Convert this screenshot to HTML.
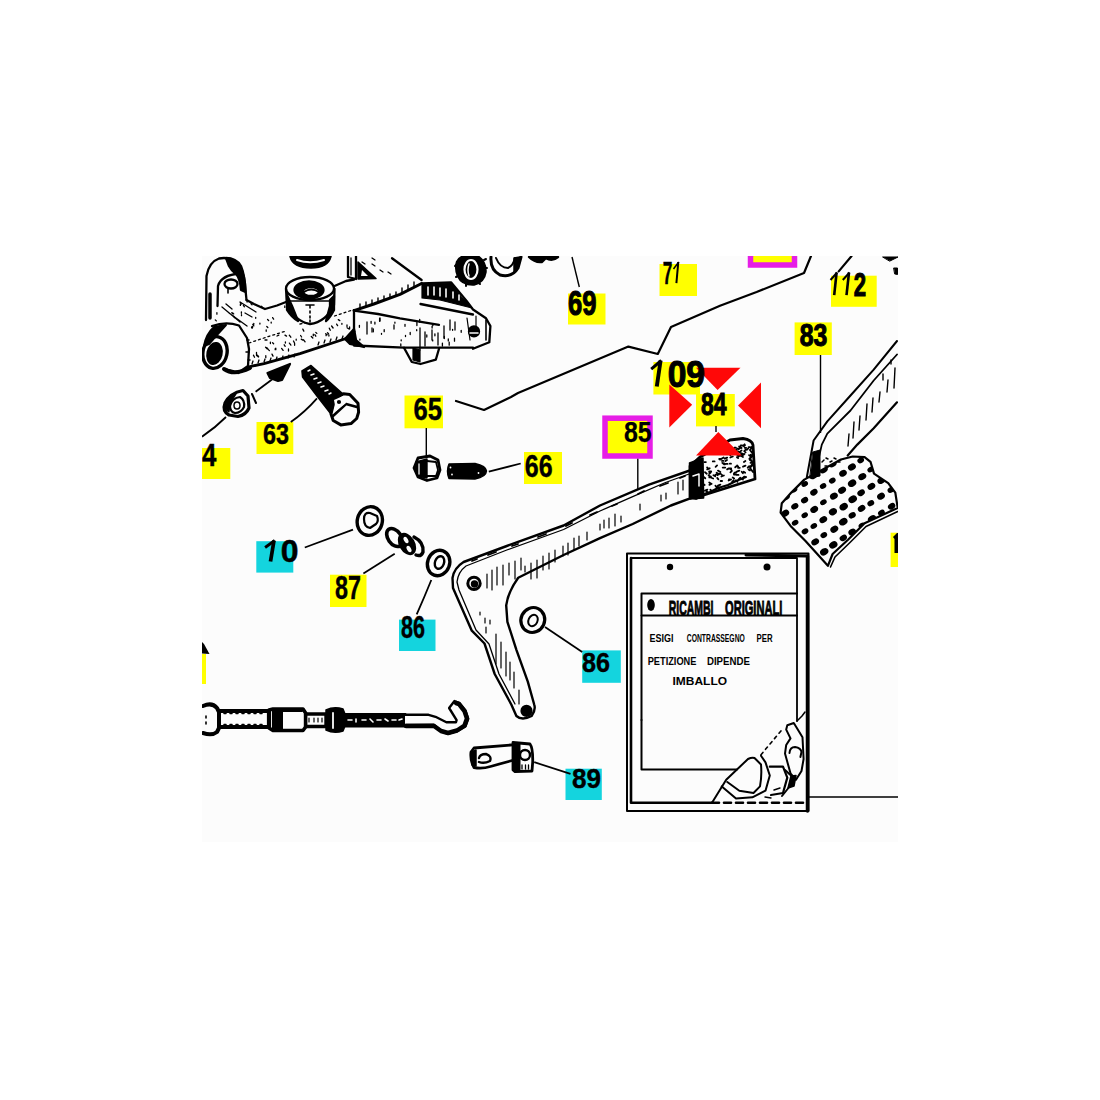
<!DOCTYPE html>
<html><head><meta charset="utf-8"><style>
html,body{margin:0;padding:0;background:#fff;width:1100px;height:1100px;overflow:hidden}
svg{display:block}
</style></head><body>
<svg width="1100" height="1100" viewBox="0 0 1100 1100">
<rect x="202" y="256" width="696" height="586" fill="#fcfcfc"/>
<defs><clipPath id="imgclip"><rect x="202" y="256" width="696" height="586"/></clipPath></defs><g clip-path="url(#imgclip)">
<g><rect x="568.0" y="293.5" width="37.5" height="31.0" fill="#ffff00"/><rect x="659.5" y="264.0" width="37.5" height="32.0" fill="#ffff00"/><rect x="831.0" y="275.7" width="45.7" height="31.1" fill="#ffff00"/><rect x="794.6" y="322.4" width="37.2" height="32.6" fill="#ffff00"/><rect x="653.4" y="362.0" width="46.6" height="32.5" fill="#ffff00"/><rect x="696.0" y="394.0" width="38.8" height="32.4" fill="#ffff00"/><rect x="404.5" y="395.5" width="38.5" height="32.8" fill="#ffff00"/><rect x="524.0" y="452.0" width="38.0" height="32.0" fill="#ffff00"/><rect x="256.5" y="422.0" width="36.8" height="32.0" fill="#ffff00"/><rect x="202.0" y="448.0" width="28.3" height="31.0" fill="#ffff00"/><rect x="256.3" y="541.2" width="37.0" height="31.4" fill="#14d4de"/><rect x="330.0" y="574.7" width="36.5" height="32.3" fill="#ffff00"/><rect x="399.0" y="619.6" width="36.5" height="31.4" fill="#14d4de"/><rect x="582.2" y="650.4" width="38.6" height="32.4" fill="#14d4de"/><rect x="565.5" y="768.7" width="36.3" height="31.3" fill="#14d4de"/><rect x="750.5" y="250" width="44" height="15" fill="#ffff00" stroke="#e61ee6" stroke-width="5.5"/><rect x="605" y="418.2" width="45" height="37.8" fill="#ffff00" stroke="#e61ee6" stroke-width="5.5"/><rect x="890.6" y="532.7" width="7.4" height="34.3" fill="#ffff00"/></g>
<g fill="none" stroke="#000" stroke-width="2.2" stroke-linejoin="round" stroke-linecap="round"><polyline points="456,401 484,410 511,397 518,393 628.4,346.6 657.8,354 671,327 720,305.7 756.6,292 804,273 811,256"/><line x1="838.7" y1="271.4" x2="851.6" y2="256"/></g>
<g fill="none" stroke="#000" stroke-width="1.4"><line x1="579.3" y1="287" x2="572" y2="257"/><line x1="820.5" y1="355" x2="820.5" y2="433"/><line x1="716" y1="426" x2="716" y2="432"/><line x1="426.3" y1="428" x2="426.3" y2="456"/><line x1="637.8" y1="458.7" x2="637.8" y2="489.6"/></g>
<g fill="none" stroke="#000" stroke-width="1.8"><path d="M488.8,471.6 L520.7,463.5"/><path d="M290.8,422 Q305,412 317,398.3"/><path d="M202,436.7 Q215,428 226,417"/><path d="M255.6,391.7 L272,379.5"/><path d="M304.8,547.5 L353,529.7"/><path d="M363.4,573.6 L394.7,553.8"/><path d="M431.3,580 Q424,598 416.7,614.4"/><path d="M545,627 L582.2,652"/><path d="M534.2,762.2 L570.5,773.8"/></g>
<g fill="none" stroke="#000" stroke-width="2.3" stroke-linejoin="round" stroke-linecap="round">
 <!-- lug -->
 <path d="M206,320 L206.5,276 Q209,262 219,258.5 Q232,256 240,266 Q245,276 245.5,290 L246.5,300"/>
 <path d="M210,318 L210,294" stroke-width="3.5"/>
 <path d="M217.5,306 L218,286 Q221,275 240,273.5"/>
 <ellipse cx="231" cy="284" rx="6.5" ry="4.5"/>
 <path d="M228,289 L228,293" stroke-width="1.6"/>
 <path d="M226,258 Q236,258 241,266 Q245,276 245.5,292 L241,290 Q240,278 236,274 Q231,270 229,266 Z" fill="#000"/>
 <!-- arm top edge lug->nut -->
 <path d="M246.5,300 L254,304 L265,309 L277,305.5 L286,302"/>
 <!-- texture lines on lug/arm -->
 <path d="M222,307 L240,322 M226,304 L232,309 M229,313 L247,326 M240,302 L256,312 M245,313 L252,317" stroke-width="1.3"/>
 <!-- boss left -->
 <ellipse cx="215" cy="352.5" rx="12" ry="16" transform="rotate(12 215 352.5)" stroke-width="3.4"/>
 <ellipse cx="214.5" cy="353.5" rx="7" ry="10.5" transform="rotate(12 214.5 353.5)" fill="#000"/>
 <path d="M212,326 Q226,321 239,325.5 L247,338 L249,349 L248,366 L238,373 L225,369" />
 <path d="M204,346 Q206,334 214,327 L226,325 L216,336 L209,344 Z" fill="#000" stroke-width="2"/>
 <path d="M224,369 Q234,376 250,368" stroke-width="4"/>
 <path d="M247,340 l2,0 M246,352 l3,0 M248,360 l2,0" stroke-width="1.5"/>
 <!-- arm bottom edge -->
 <path d="M248,367 L264,363.6 L300,353.6 L347.6,338 L354,331.5" stroke-width="2.8"/>
 <path d="M252,364 l1,-3 M258,363 l1,-3 M264,362 l1,-3 M270,361 l1,-3 M276,360 l1,-3 M282,359 l1,-3 M288,358 l1,-3 M294,357 l1,-3 M318,345 l1,-3 M324,343 l1,-3 M330,342 l1,-3 M336,340 l1,-3 M342,339 l1,-3" stroke-width="1.3"/>
 <!-- black junction -->
 <path d="M345,339 L354,329 L356,340 L364,347 L350,344 Z" fill="#000"/>
 <!-- dotted lines -->
 <path d="M249,343 L270,336 L286,331 M300,324 L307,322.6 M334.5,316 L354,309.5 M265,340 l2,0 M277,336 l2,-1" stroke-width="1.3" stroke-dasharray="2 3"/>
 <!-- nut on arm -->
 <ellipse cx="310" cy="288.5" rx="24" ry="11.5"/>
 <path d="M286,289 L287,305 Q296,322 310,324 Q326,322 334,305 L334.5,289"/>
 <path d="M287,295 L287,310 Q292,318 298,321 L292,306 Z" fill="#000"/>
 <path d="M330,300 L334,296 L334,310 Q330,318 326,321 L330,306 Z" fill="#000"/>
 <ellipse cx="309" cy="290" rx="14.5" ry="8.5" fill="#000"/>
 <ellipse cx="311" cy="291.5" rx="8" ry="4.5" fill="#fcfcfc"/>
 <path d="M304,292 Q311,287 319,292" stroke-width="1.8"/>
 <path d="M290,301 L330,301" stroke-width="1.4"/>
 <path d="M306,305 L314,305 M310,306 l0,2 M310,311 l0,2 M310,316 l0,2 M310,320 l0,2" stroke-width="1.6"/>
 <!-- washer at top -->
 <path d="M290,256.5 Q293,268 311,268 Q328,268 331,256.5 Z" fill="#000" stroke-width="1.5"/>
 <path d="M297,260 Q310,264.5 324,260" stroke="#fcfcfc" stroke-width="2"/>
 <!-- arm top to plate -->
 <path d="M334.5,286 L346,281 L354,279.5"/>
 <path d="M348,256.5 L348,277 L356,279 L356,256.5" />
 <path d="M351,258 L351,275" stroke-width="1.3"/>
 <path d="M358,262 L376,278.5 L358,279 Z" fill="#000" stroke-width="1.5"/>
 <path d="M362,270 L368,276 L361,276 Z" fill="#fcfcfc" stroke="none"/>
 <path d="M392,258.3 L421.6,280" />
 <path d="M362,262 l3,2 M372,264 l3,2 M380,270 l3,2 M388,272 l3,2 M372,258 l3,2" stroke-width="1.3"/>
 <!-- block -->
 <path d="M354,310.6 L373.8,304 L400,294.3 L421.6,283.5" stroke-width="3"/>
 <path d="M360,308 l0,-4 M366,306 l0,-4 M372,304 l0,-4 M378,302 l0,-4 M384,300 l0,-4 M390,298 l0,-4 M396,296 l0,-4 M402,293 l0,-5 M408,290 l0,-5 M414,287 l0,-5" stroke-width="1.4"/>
 <path d="M354,310.6 L378,314 L400,318.3 L439,324.8"/>
 <path d="M420.5,304 L473,314.5"/>
 <path d="M354,310.6 L354,345.5 L404,347.7 L473,347.7"/>
 <path d="M421.6,283.4 L451,282.3 L466.4,300.8 L473,309.5 L486,318.3 L490.4,326 L489.3,342.3 L473,348.8"/>
 <path d="M422,284 L451,283 L462,298 L472,308 L440,300 L422,298 Z" fill="#000" stroke-width="1.2"/>
 <path d="M428,287 l0,8 M434,287 l0,8 M440,288 l0,8 M446,289 l0,8 M453,292 l0,6 M459,295 l0,5" stroke="#fcfcfc" stroke-width="1.6"/>
 <path d="M467,318 L470,340 M476,316 L476,332" stroke-width="1.2"/>
 <circle cx="474" cy="331.4" r="5" fill="#000"/>
 <path d="M470,333 L478,333" stroke="#fcfcfc" stroke-width="1.5"/>
 <path d="M486,320 L486,340" stroke-width="1.6"/>
 <!-- lug under block -->
 <path d="M404,347.7 L411.8,362 L420.5,364 L435.8,359.7 L439,348.8"/>
 <path d="M413,348 L413,360 L420,362 L420,350 Z" fill="#000" stroke-width="1.2"/>
 <!-- block texture -->
 <path d="M367,322 l0,12 M372,328 l0,4 M380,318 l0,3 M394,325 l0,4 M420,328 l0,22 M425,332 l0,14 M432,330 l0,10 M438,333 l0,12 M444,326 l0,12 M450,320 l0,10 M455,322 l0,8" stroke-width="1.3"/>
 <!-- nut top right -->
 <path d="M457,262 Q460,256 466,256.5 L478,256.5 Q486,262 485.5,272 Q484,282 474,284.5 Q462,285 458,276 Q455,269 457,262 Z" fill="#000" stroke-width="2.5"/>
 <ellipse cx="471" cy="269.5" rx="6.5" ry="9.5" fill="none" stroke="#fcfcfc" stroke-width="2.2"/>
 <path d="M469,264 Q467,270 469,276" stroke="#fcfcfc" stroke-width="1.5"/>
 <path d="M457,264 l-2,2 M458,276 l-2,1 M466,284 l0,2 M478,282 l2,2 M485,268 l2,0 M484,260 l2,-1" stroke-width="2"/>
 <!-- washer right of nut -->
 <path d="M491,257 Q490,270 500,275 Q512,278 518,268 L521,257" stroke-width="3"/>
 <path d="M496,258 Q500,268 508,268 Q513,266 515,258" stroke-width="2"/>
 <path d="M514,258 L520,257 Q520,268 514,273 Z" fill="#000" stroke-width="1.5"/>
 <path d="M529,257 Q535,263 542,262 L546,258 Q552,262 558,257 Z" fill="#000" stroke-width="2.4"/>
</g>

<g fill="none" stroke="#000" stroke-width="1.3" stroke-linecap="round"><path d="M266.8,347.8 l1,1 M314.8,334.7 l1,1.5 M272.0,354.1 l1,2 M347.1,327.8 l1.5,1 M265.8,355.7 l0,2 M296.2,339.2 l0,1 M285.0,335.1 l1.5,1 M338.3,319.6 l1.5,1 M300.6,335.5 l1,1.5 M272.6,342.8 l1,1 M285.4,342.0 l0,1 M256.7,355.4 l1.5,1.5 M329.3,328.2 l1,2 M257.1,354.9 l1.5,1.5 M328.9,335.0 l0,1 M326.1,334.7 l0,1 M293.5,341.0 l1,2 M336.6,324.1 l1,1.5 M288.5,349.0 l0,2 M256.5,352.4 l0,2 M267.9,349.1 l1.5,1.5 M275.8,348.2 l0,1.5 M341.9,323.3 l0,1 M301.3,339.1 l1.5,1 M311.3,336.5 l1.5,1.5 M281.6,348.4 l1.5,2 M303.6,339.8 l1.5,2 M256.5,355.5 l1.5,1 M349.6,327.0 l0,2 M257.5,355.5 l1,1.5 M327.5,332.8 l1,1 M315.8,332.4 l1,1 M302.8,329.1 l1,2 M275.2,348.7 l0,1 M289.3,335.2 l1.5,2 M289.4,343.1 l1.5,2 M325.7,333.7 l1.5,1 M284.2,344.8 l1,1.5 M347.0,325.0 l0,1.5 M265.6,347.2 l1.5,1.5 M270.4,342.1 l0,1.5 M294.6,343.3 l0,2 M253.5,355.2 l1,2 M313.3,334.2 l0,1.5 M331.6,326.0 l1.5,2"/><path d="M252.5,326.5 l0,1.5 M253.8,323.3 l0,1 M266.8,326.5 l1,1 M240.4,302.5 l1,1.5 M243.4,305.3 l1,1.5 M252.8,324.4 l1,1.5 M240.4,303.9 l0,1.5 M216.9,312.7 l0,1.5 M261.6,306.3 l1,1.5 M251.6,326.9 l0,1 M251.0,303.7 l1,1 M231.8,312.7 l1,1 M259.9,323.1 l0,1 M267.6,319.5 l1,1 M232.7,312.9 l1,1 M241.5,314.7 l0,1 M233.6,316.1 l1,1.5 M247.1,301.1 l0,1 M272.6,317.6 l1,1.5 M271.2,322.1 l0,1 M266.2,329.8 l0,1.5 M241.4,311.8 l0,1.5 M215.3,319.9 l1,1 M255.7,317.3 l0,1 M284.8,305.9 l0,1.5"/><path d="M410.2,332.5 l0,2 M416.7,329.7 l0,1 M360.3,343.7 l0,1 M373.3,328.8 l0,3 M405.5,335.5 l0,1 M434.9,333.8 l0,2 M405.0,324.3 l0,2 M449.2,342.2 l0,3 M448.3,338.9 l0,2 M454.5,338.2 l0,3 M394.9,322.2 l0,1 M359.4,325.3 l0,2 M432.1,326.1 l0,2 M461.2,330.3 l0,2 M379.6,318.3 l0,3 M374.9,322.1 l0,2 M416.9,322.5 l0,3 M426.8,335.0 l0,2 M371.1,321.3 l0,2 M432.9,323.6 l0,2 M359.9,339.1 l0,1 M381.5,333.3 l0,1 M384.2,329.7 l0,2 M442.4,343.1 l0,3 M432.7,339.9 l0,1 M400.8,343.9 l0,2 M444.3,336.5 l0,2 M452.6,329.3 l0,1 M419.7,319.3 l0,3 M401.2,339.8 l0,1"/></g>

<g fill="none" stroke="#000" stroke-width="2.2" stroke-linejoin="round" stroke-linecap="round">
 <!-- washer near 4 -->
 <path d="M225,403 Q230,393 243,390.5 L248,396 L249,408 Q246,415 238,416.5 L229,415 Q222,411 225,403 Z" stroke-width="3.2"/>
 <path d="M226,404 Q229,396 236,394 L230,404 L229,412 Q224,410 226,404 Z" fill="#000" stroke-width="1.2"/>
 <path d="M230,406 Q232,398 240,397 Q245,400 244,407 Q241,413 235,413 Q230,412 230,406 Z" stroke-width="2.2"/>
 <ellipse cx="237" cy="405.5" rx="3" ry="3.5" stroke-width="1.5"/>
 <path d="M252,394 L256,403" stroke-width="2"/>
 <!-- arrow -->
 <path d="M267.5,373 L290,364 L282,380 L278,381 L270,378 Z" fill="#000"/>
 <!-- bolt 63 -->
 <path d="M302,371 L311,365.5 L343,394 L335,399 L331,414 L317,396 L302.6,377 Z" fill="#000" stroke-width="1.6"/>
 <path d="M308,371 l2,-1 M311,375 l3,-1 M314,379 l3,-1 M318,383 l3,-1 M321,387 l3,-1 M325,391 l3,-1 M329,394 l2,-1" stroke="#fcfcfc" stroke-width="1.5"/>
 <path d="M331,414 L334.5,399.5 L343.4,393.7 L349.7,394.4 L358,403.3 L358.6,412.2 L356.7,418.5 L351,423.6 L340.8,424.9 L333.2,420.5 Z" stroke-width="3"/>
 <path d="M333,416 L346,404 L357,407" stroke-width="2.6"/>
 <path d="M334,400 L343,396 L346,403 L336,411 Z" fill="#fcfcfc" stroke="none"/>
 <circle cx="339" cy="402" r="1" fill="#000"/>
 <!-- nut 65 -->
 <path d="M418,458 L430,456 L438,460 L440,470 L437,478 L427,480.5 L418,477 L414,468 Z" stroke-width="2.8"/>
 <path d="M416,462 L427,459 L427,478 L418,476 L415,468 Z" fill="#000" stroke-width="1.4"/>
 <path d="M419,464 L419,474" stroke="#fcfcfc" stroke-width="1.3"/>
 <path d="M427,461 L436,462 L438,470 L436,476 L427,476" stroke-width="1.8"/>
 <path d="M421,477 l2,2 M420,458 l3,-1" stroke-width="1.5"/>
 <!-- screw 66 -->
 <path d="M449,464 L475,463.5 Q486,466 486.5,471 Q486,477 475,479 L449,478.5 Q446,471 449,464 Z" fill="#000" stroke-width="1.5"/>
 <circle cx="450.5" cy="467.5" r="0.9" fill="#fcfcfc" stroke="none"/><circle cx="452" cy="474.5" r="0.9" fill="#fcfcfc" stroke="none"/><circle cx="478.5" cy="473" r="0.9" fill="#fcfcfc" stroke="none"/>
 <!-- washer 10 -->
 <ellipse cx="369.8" cy="521" rx="12.5" ry="14.5" transform="rotate(15 369.8 521)" stroke-width="3.4"/>
 <path d="M364,519 Q364,512 370,513 L377,516 Q379,521 376,524 L370,528 Q364,527 364,519 Z" stroke-width="2.2"/>
 <!-- spring 87 -->
 <ellipse cx="394.5" cy="537.5" rx="6.5" ry="10" transform="rotate(-35 394.5 537.5)" stroke-width="3.6"/>
 <ellipse cx="407" cy="544" rx="7" ry="11" transform="rotate(-30 407 544)" fill="#000" stroke-width="2"/>
 <ellipse cx="406" cy="540" rx="2" ry="3.5" transform="rotate(-30 406 540)" fill="#fcfcfc" stroke="none"/>
 <ellipse cx="409" cy="549" rx="2" ry="3.5" transform="rotate(-30 409 549)" fill="#fcfcfc" stroke="none"/>
 <path d="M414,537 Q424,542 423,552 Q421,557 416,555" stroke-width="3.4"/>
 <!-- washer 86a -->
 <ellipse cx="438.6" cy="563" rx="11" ry="13" transform="rotate(20 438.6 563)" stroke-width="3.4"/>
 <ellipse cx="439.5" cy="562.5" rx="4.5" ry="6.5" transform="rotate(20 439.5 562.5)" stroke-width="2.4"/>
 <!-- lever 85 -->
 <path d="M692.7,469.5 L649,484.7 L600,505.5 L563.6,525.5 L506.8,546 L463.6,562 Q454,568 452.5,578 L453,588 L471.8,630.7 L484.5,643.5 L494.7,674 L511.3,704.5 L516.4,716 Q522,721 531.6,716 Q536,710 534.2,704.5 L527.8,681.6 L516.4,649.8 L507.4,621.8 L506.2,605.3 Q508,592 518.2,577.7 L563.6,555 L600,538.2 L632.7,524 L670.9,505.5 L694.9,496.7" stroke-width="2.4"/>
 <path d="M690.5,473.5 L665.5,482.5 L632.7,496.7 L600,511 L563.6,529.5 L506.8,550 L466,566 Q458,572 457,582 L459,590 L476,630 L489,644 L499,674 L515,704" stroke-width="1.3"/>
 <path d="M531,563 l0,16 M537,560 l0,18 M543,556 l0,14 M549,553 l0,16 M555,550 l0,12 M563,546 l0,10 M568,543 l0,12 M574,538 l0,12 M579,536 l0,10 M587,532 l0,8 M600,524 l0,6 M604,520 l0,8 M609,518 l0,10 M615,514 l0,12 M621,516 l0,6 M640,504 l0,6 M661,495 l0,6 M666,493 l0,6 M678,482 l0,12 M683,480 l0,10 M487,574 l0,14 M492,570 l0,20 M497,567 l0,18 M503,565 l0,20 M509,563 l0,12 M515,561 l0,18 M521,558 l0,12 M525,566 l0,6" stroke-width="1.2"/>
 <path d="M480,612 l0,3 M485,618 l0,5 M490,620 l0,4 M486,627 l0,6 M496,634 l0,30 M501,642 l0,26 M506,652 l0,24 M510,662 l0,18 M514,672 l0,16 M519,690 l0,14" stroke-width="1.2"/>
 <circle cx="474" cy="583.4" r="6.2" stroke-width="3"/>
 <circle cx="474.5" cy="584" r="2.6" fill="#000"/>
 <circle cx="526.5" cy="710.9" r="5" fill="#000"/>
 <path d="M472,561 l5,-2 M488,555 l8,-3 M512,546 l6,-2 M538,537 l8,-3 M566,526 l6,-3 M590,515 l7,-3 M612,506 l5,-2 M638,494 l6,-3 M660,486 l8,-3 M680,478 l5,-2" stroke-width="1.8"/>
 <!-- pedal pad 84 -->
 <path d="M690,466 L700,457 L730,440 L743,438.5 Q752,440 753,445 L755,479 L704,495 L696,498.5 L690,497 Z" stroke-width="2.8"/>
 <path d="M689.5,463 L703,458 L703.6,498 L690,499 Z" fill="#000" stroke-width="1.5"/>
 <path d="M693,476 L699,474 L699,486" stroke="#fcfcfc" stroke-width="1.5"/>
 <path d="M753,446 l-3,4 l3,4 l-3,5 l3,4 l-3,5 l3,4" stroke-width="2"/>
 <path d="M704,494 l6,-2 l8,-4 l10,-3 l8,-4 l10,-4" stroke-width="2"/>
 <path d="M733.9,473.4 l1.2,-1 M741.2,453.5 l1.2,1 M709.4,472.5 l1.8,-1 M730.1,468.8 l1.2,1 M723.6,457.4 l-1.5,1 M740.6,447.6 l-1.5,1 M710.3,489.8 l1.2,1 M741.1,478.5 l1.8,1 M717.9,486.7 l1.8,1 M749.2,466.2 l-1.5,1.5 M705.0,472.2 l1.8,1.5 M707.1,467.4 l1.2,1.5 M707.2,469.3 l2.5,-1 M737.4,452.6 l-1.5,1 M706.7,491.2 l1.2,1.5 M744.6,444.3 l-1.5,1.5 M722.1,481.0 l-1.5,0 M738.0,467.8 l1.8,0 M740.3,477.7 l-1.5,1.5 M728.6,480.5 l2.5,-1 M709.2,482.4 l2.5,1.5 M705.8,490.5 l1.2,1 M720.4,473.6 l1.8,1.5 M717.2,477.9 l1.2,1.5 M736.9,457.1 l1.2,1 M738.6,456.6 l-1.5,1 M738.6,448.6 l-1.5,0 M715.4,474.8 l2.5,-1 M735.2,452.0 l1.2,-1 M720.0,459.6 l1.8,-1 M709.1,471.4 l1.8,0 M744.5,454.0 l-1.5,1 M750.8,457.3 l-1.5,1.5 M727.0,460.0 l-1.5,1 M709.4,484.9 l1.8,-1 M745.7,449.6 l-1.5,1.5 M728.7,468.4 l2.5,0 M741.7,471.8 l1.2,1.5 M721.4,476.5 l2.5,-1 M716.7,487.8 l2.5,1.5 M735.2,467.3 l1.2,-1 M730.3,457.5 l2.5,-1 M717.9,470.6 l2.5,1.5 M717.1,465.4 l-1.5,1.5 M748.3,448.4 l-1.5,1.5 M749.9,459.9 l1.8,1 M744.2,476.6 l-1.5,1.5 M737.2,471.4 l-1.5,1 M733.6,480.3 l-1.5,1.5 M733.9,474.5 l2.5,0 M713.4,475.2 l1.8,1 M740.4,451.4 l1.2,-1 M751.0,447.1 l1.8,0 M719.2,459.0 l1.8,0 M723.9,463.2 l1.2,1 M715.4,485.6 l1.2,1.5 M723.5,460.9 l-1.5,0 M737.1,465.4 l1.2,1.5 M708.6,475.5 l2.5,1.5 M750.0,470.4 l-1.5,-1 M743.0,466.7 l2.5,-1 M710.8,476.4 l-1.5,1 M750.5,462.8 l2.5,0 M722.3,462.9 l1.8,1.5 M734.2,478.5 l-1.5,-1 M724.7,458.6 l2.5,-1 M750.7,454.8 l1.8,1.5 M739.6,455.9 l2.5,-1 M704.9,490.7 l2.5,-1 M748.6,447.2 l1.2,0 M735.7,480.4 l1.8,1.5 M705.9,462.1 l-1.5,0 M727.1,469.4 l1.8,-1 M741.5,453.3 l2.5,1 M738.6,455.7 l-1.5,-1 M728.9,479.4 l1.2,0 M740.5,455.6 l2.5,1.5 M739.1,446.5 l2.5,1.5 M736.7,474.9 l1.8,0 M704.1,477.3 l1.2,1 M704.7,485.0 l-1.5,-1 M745.2,472.8 l-1.5,-1 M736.8,471.6 l2.5,-1 M743.8,446.2 l1.2,-1 M731.9,470.8 l-1.5,1.5 M710.8,472.3 l-1.5,1.5 M729.8,463.7 l1.2,0 M739.2,454.9 l1.2,0 M735.9,447.6 l-1.5,0 M751.9,465.6 l1.2,0 M744.4,451.4 l1.2,1 M751.7,465.8 l-1.5,1 M712.8,461.4 l1.8,0 M733.9,448.9 l1.2,-1 M739.8,455.1 l1.2,-1 M746.2,447.8 l-1.5,0 M719.1,473.7 l-1.5,1.5 M749.0,455.1 l1.2,1 M737.5,451.4 l2.5,1 M716.6,472.8 l2.5,1.5 M728.8,453.9 l1.8,1.5 M725.8,463.9 l1.8,0 M735.4,449.8 l1.2,0 M745.4,461.0 l-1.5,1 M722.7,467.6 l2.5,0 M742.2,445.5 l-1.5,0 M744.7,476.6 l-1.5,1 M740.0,448.2 l-1.5,1 M710.7,477.5 l2.5,1 M717.9,485.6 l2.5,-1" stroke-width="1.8"/>
 <!-- washer 86b -->
 <ellipse cx="532.8" cy="620" rx="11.8" ry="12.6" transform="rotate(25 532.8 620)" stroke-width="3.2"/>
 <ellipse cx="533" cy="620.5" rx="4.5" ry="6" transform="rotate(25 533 620.5)" stroke-width="2"/>
</g>

<g fill="none" stroke="#000" stroke-width="2.2" stroke-linejoin="round" stroke-linecap="round">
 <!-- document -->
 <rect x="627" y="553.5" width="181.5" height="257.5" stroke-width="2"/>
 <path d="M631,558 L631,802.7 L712,802.7" stroke-width="2.6"/>
 <path d="M631,558 L797,558 M797,558 L797,721" stroke-width="1.8"/>
 <path d="M746,555 L806,556" stroke-width="3"/>
 <path d="M712,802.7 L806,802.7" stroke-width="2.6" stroke-dasharray="7 5"/>
 <path d="M807.5,556 L807.5,811" stroke-width="3.5"/>
 <circle cx="670" cy="567" r="3.2" fill="#000" stroke="none"/>
 <circle cx="767" cy="567" r="3.5" fill="#000" stroke="none"/>
 <path d="M641.5,720 L641.5,593.5 L797,593.5" stroke-width="2"/>
 <path d="M641.5,720 L641.5,769.6 L737,769.6" stroke-width="2"/>
 <path d="M641.5,615.4 L797,615.4" stroke-width="2"/>
 <ellipse cx="651" cy="605" rx="3.8" ry="6" fill="#000" stroke="none"/>
 <!-- hand -->
 <path d="M712,802.7 L726.2,779.8 L748,759 Q752,757 754.5,758 L761,764.5 Q762,776 760,786.4 L753.5,793 L739.3,790.7 L727.3,782" stroke-width="2"/>
 <path d="M721.8,786.4 L736,798.4 L752.4,797.3 L765.5,790.7 L769.8,775.5 L765.5,762.4 L761,755.8" stroke-width="2"/>
 <path d="M769.8,766.7 L783,766.7 L787.3,777.6 L783,793 L771,795" stroke-width="2.2"/>
 <path d="M785,770 L791.6,776 L790,786 L782,796" stroke-width="2"/>
 <path d="M791,776 L796,775.5 L794,786 L788,788 Z" fill="#000" stroke-width="1.5"/>
 <path d="M787.3,725.3 L793.8,723 L802.5,737.3 L803.6,759 L801.5,771 L796,779.8 L790.5,773.3 L785,753.6 L786.2,745 L790.5,738.4 L786.2,729.6 Z" stroke-width="2"/>
 <path d="M789.5,753 Q790,747 795,747 Q801,748 801.5,752 L800.4,757" stroke-width="2"/>
 <path d="M761,754.7 L783,728.5" stroke-width="1.6" stroke-dasharray="3 4"/>
 <path d="M797,721 L802,716 L805,712" stroke-width="1.5"/>
 <path d="M765,797 l6,1 M774,790 l6,-2" stroke-width="1.4"/>
 <!-- horizontal line to right -->
 <path d="M808,797 L897.5,797" stroke-width="1.6"/>
 <!-- 83 arm -->
 <path d="M897,341 L873.7,369.6 L850.5,395.5 L827.3,421.4 L813.6,440.5 L806.8,477.3" stroke-width="2"/>
 <path d="M897,354.5 L873.7,380.5 L850.5,410.5 L827.3,433.7 L821.8,444.6 L815,474.6" stroke-width="1.8"/>
 <path d="M897,402.3 L873.7,428.2 L857.3,444.6 L847.7,455.5" stroke-width="2.2"/>
 <path d="M895,368 l-1,20 M888,380 l-1,12 M880,392 l-1,10 M873,398 l-1,14 M867,404 l-1,16 M860,416 l-1,14 M854,422 l-1,16 M849,434 l-1,12 M891,360 l0,4 M883,374 l0,6" stroke-width="1.4"/>
 <path d="M813,452 L820,450 L820,476 L810,478 Z" fill="#000" stroke-width="1"/>
 <path d="M822,462 l2,-2 M826,458 l2,1 M830,462 l2,-1 M834,458 l2,1 M825,466 l2,0 M838,462 l2,0" stroke-width="1.5"/>
 <!-- 83 pad -->
 <defs><clipPath id="padclip"><path d="M804.3,479.6 L840.9,459.5 L852.7,456.5 L864.6,457.1 L870.5,461.8 L874,473.6 L888.2,483.1 L895.3,492.6 L897.7,507.9 L864.6,523.3 L848,539.8 L832.6,554 L827.9,565.8 L805.5,541 L791.3,526.8 L780.6,512.6 L781.8,503.2 L791.3,492.6 Z"/></clipPath></defs>
 <path d="M804.3,479.6 L840.9,459.5 L852.7,456.5 L864.6,457.1 L870.5,461.8 L874,473.6 L888.2,483.1 L895.3,492.6 L897.7,507.9 L864.6,523.3 L848,539.8 L832.6,554 L827.9,565.8 L805.5,541 L791.3,526.8 L780.6,512.6 L781.8,503.2 L791.3,492.6 Z" stroke-width="2.2"/>
 <path d="M897.7,511.5 L866,526.5 L850,542.5 L835,557 L830.5,567" stroke-width="1.6"/>
</g>
<g fill="#000" clip-path="url(#padclip)"><ellipse cx="776.3" cy="568.1" rx="3.8" ry="2.9" transform="rotate(-30 776.3 568.1)"/><ellipse cx="776.6" cy="551.3" rx="3.5" ry="2.6" transform="rotate(-30 776.6 551.3)"/><ellipse cx="786.4" cy="560.6" rx="3.5" ry="2.6" transform="rotate(-30 786.4 560.6)"/><ellipse cx="795.4" cy="570.4" rx="3.9" ry="3.0" transform="rotate(-30 795.4 570.4)"/><ellipse cx="776.8" cy="534.7" rx="3.9" ry="3.0" transform="rotate(-30 776.8 534.7)"/><ellipse cx="786.3" cy="545.8" rx="3.6" ry="2.8" transform="rotate(-30 786.3 545.8)"/><ellipse cx="795.7" cy="555.6" rx="4.0" ry="3.1" transform="rotate(-30 795.7 555.6)"/><ellipse cx="806.2" cy="564.2" rx="3.4" ry="2.6" transform="rotate(-30 806.2 564.2)"/><ellipse cx="814.7" cy="574.0" rx="3.5" ry="2.8" transform="rotate(-30 814.7 574.0)"/><ellipse cx="775.5" cy="519.1" rx="4.2" ry="3.2" transform="rotate(-30 775.5 519.1)"/><ellipse cx="785.6" cy="528.8" rx="4.1" ry="3.1" transform="rotate(-30 785.6 528.8)"/><ellipse cx="794.8" cy="538.1" rx="3.5" ry="2.6" transform="rotate(-30 794.8 538.1)"/><ellipse cx="805.2" cy="548.0" rx="4.1" ry="3.1" transform="rotate(-30 805.2 548.0)"/><ellipse cx="815.0" cy="557.7" rx="4.0" ry="3.1" transform="rotate(-30 815.0 557.7)"/><ellipse cx="825.1" cy="567.4" rx="4.2" ry="3.2" transform="rotate(-30 825.1 567.4)"/><ellipse cx="775.8" cy="503.3" rx="4.0" ry="3.1" transform="rotate(-30 775.8 503.3)"/><ellipse cx="785.2" cy="513.3" rx="4.2" ry="3.2" transform="rotate(-30 785.2 513.3)"/><ellipse cx="795.1" cy="522.7" rx="3.5" ry="2.6" transform="rotate(-30 795.1 522.7)"/><ellipse cx="805.0" cy="531.3" rx="3.5" ry="2.8" transform="rotate(-30 805.0 531.3)"/><ellipse cx="815.2" cy="541.9" rx="4.1" ry="3.1" transform="rotate(-30 815.2 541.9)"/><ellipse cx="824.2" cy="551.8" rx="4.4" ry="3.4" transform="rotate(-30 824.2 551.8)"/><ellipse cx="834.4" cy="561.2" rx="4.0" ry="3.1" transform="rotate(-30 834.4 561.2)"/><ellipse cx="844.8" cy="571.0" rx="4.4" ry="3.4" transform="rotate(-30 844.8 571.0)"/><ellipse cx="774.8" cy="486.8" rx="4.1" ry="3.1" transform="rotate(-30 774.8 486.8)"/><ellipse cx="786.0" cy="496.7" rx="4.1" ry="3.1" transform="rotate(-30 786.0 496.7)"/><ellipse cx="794.8" cy="506.3" rx="3.8" ry="2.9" transform="rotate(-30 794.8 506.3)"/><ellipse cx="804.7" cy="515.2" rx="3.4" ry="2.6" transform="rotate(-30 804.7 515.2)"/><ellipse cx="813.8" cy="525.9" rx="3.5" ry="2.6" transform="rotate(-30 813.8 525.9)"/><ellipse cx="823.8" cy="535.1" rx="3.5" ry="2.8" transform="rotate(-30 823.8 535.1)"/><ellipse cx="833.3" cy="544.9" rx="4.4" ry="3.4" transform="rotate(-30 833.3 544.9)"/><ellipse cx="844.4" cy="555.3" rx="4.0" ry="3.1" transform="rotate(-30 844.4 555.3)"/><ellipse cx="853.2" cy="564.4" rx="4.4" ry="3.4" transform="rotate(-30 853.2 564.4)"/><ellipse cx="863.9" cy="575.0" rx="3.8" ry="2.9" transform="rotate(-30 863.9 575.0)"/><ellipse cx="774.7" cy="469.8" rx="3.5" ry="2.8" transform="rotate(-30 774.7 469.8)"/><ellipse cx="784.9" cy="480.1" rx="3.6" ry="2.8" transform="rotate(-30 784.9 480.1)"/><ellipse cx="793.9" cy="489.6" rx="3.6" ry="2.8" transform="rotate(-30 793.9 489.6)"/><ellipse cx="804.6" cy="500.2" rx="3.8" ry="2.9" transform="rotate(-30 804.6 500.2)"/><ellipse cx="814.2" cy="509.4" rx="4.1" ry="3.2" transform="rotate(-30 814.2 509.4)"/><ellipse cx="823.3" cy="519.6" rx="4.1" ry="3.1" transform="rotate(-30 823.3 519.6)"/><ellipse cx="834.3" cy="529.2" rx="4.2" ry="3.2" transform="rotate(-30 834.3 529.2)"/><ellipse cx="843.3" cy="537.9" rx="3.9" ry="2.9" transform="rotate(-30 843.3 537.9)"/><ellipse cx="852.5" cy="547.6" rx="4.1" ry="3.1" transform="rotate(-30 852.5 547.6)"/><ellipse cx="862.5" cy="557.8" rx="3.6" ry="2.8" transform="rotate(-30 862.5 557.8)"/><ellipse cx="872.0" cy="567.2" rx="3.4" ry="2.6" transform="rotate(-30 872.0 567.2)"/><ellipse cx="774.7" cy="453.2" rx="3.5" ry="2.6" transform="rotate(-30 774.7 453.2)"/><ellipse cx="784.8" cy="463.1" rx="4.4" ry="3.4" transform="rotate(-30 784.8 463.1)"/><ellipse cx="794.2" cy="473.2" rx="3.6" ry="2.8" transform="rotate(-30 794.2 473.2)"/><ellipse cx="804.7" cy="484.0" rx="3.5" ry="2.6" transform="rotate(-30 804.7 484.0)"/><ellipse cx="813.9" cy="492.3" rx="3.9" ry="3.0" transform="rotate(-30 813.9 492.3)"/><ellipse cx="823.4" cy="502.3" rx="3.5" ry="2.6" transform="rotate(-30 823.4 502.3)"/><ellipse cx="832.9" cy="511.7" rx="4.2" ry="3.4" transform="rotate(-30 832.9 511.7)"/><ellipse cx="843.3" cy="521.7" rx="4.5" ry="3.4" transform="rotate(-30 843.3 521.7)"/><ellipse cx="852.2" cy="532.0" rx="4.0" ry="3.1" transform="rotate(-30 852.2 532.0)"/><ellipse cx="863.3" cy="542.1" rx="4.5" ry="3.5" transform="rotate(-30 863.3 542.1)"/><ellipse cx="872.3" cy="551.0" rx="3.6" ry="2.8" transform="rotate(-30 872.3 551.0)"/><ellipse cx="882.3" cy="561.7" rx="4.2" ry="3.2" transform="rotate(-30 882.3 561.7)"/><ellipse cx="891.6" cy="571.5" rx="3.8" ry="2.9" transform="rotate(-30 891.6 571.5)"/><ellipse cx="794.7" cy="457.7" rx="4.5" ry="3.5" transform="rotate(-30 794.7 457.7)"/><ellipse cx="804.3" cy="466.5" rx="4.2" ry="3.2" transform="rotate(-30 804.3 466.5)"/><ellipse cx="813.4" cy="475.9" rx="4.0" ry="3.0" transform="rotate(-30 813.4 475.9)"/><ellipse cx="823.1" cy="486.1" rx="3.4" ry="2.6" transform="rotate(-30 823.1 486.1)"/><ellipse cx="833.9" cy="496.1" rx="4.1" ry="3.2" transform="rotate(-30 833.9 496.1)"/><ellipse cx="843.7" cy="506.7" rx="4.4" ry="3.4" transform="rotate(-30 843.7 506.7)"/><ellipse cx="852.2" cy="515.3" rx="3.8" ry="2.9" transform="rotate(-30 852.2 515.3)"/><ellipse cx="862.0" cy="525.7" rx="3.6" ry="2.8" transform="rotate(-30 862.0 525.7)"/><ellipse cx="872.7" cy="535.2" rx="4.4" ry="3.4" transform="rotate(-30 872.7 535.2)"/><ellipse cx="882.4" cy="544.3" rx="4.1" ry="3.1" transform="rotate(-30 882.4 544.3)"/><ellipse cx="892.4" cy="555.2" rx="4.1" ry="3.1" transform="rotate(-30 892.4 555.2)"/><ellipse cx="901.4" cy="564.0" rx="4.2" ry="3.2" transform="rotate(-30 901.4 564.0)"/><ellipse cx="803.3" cy="451.1" rx="4.2" ry="3.2" transform="rotate(-30 803.3 451.1)"/><ellipse cx="813.2" cy="460.3" rx="4.5" ry="3.5" transform="rotate(-30 813.2 460.3)"/><ellipse cx="823.5" cy="469.6" rx="4.5" ry="3.4" transform="rotate(-30 823.5 469.6)"/><ellipse cx="832.3" cy="480.6" rx="3.5" ry="2.8" transform="rotate(-30 832.3 480.6)"/><ellipse cx="842.1" cy="490.2" rx="4.2" ry="3.2" transform="rotate(-30 842.1 490.2)"/><ellipse cx="852.7" cy="499.2" rx="4.5" ry="3.5" transform="rotate(-30 852.7 499.2)"/><ellipse cx="861.6" cy="508.4" rx="4.0" ry="3.1" transform="rotate(-30 861.6 508.4)"/><ellipse cx="872.2" cy="519.0" rx="4.5" ry="3.5" transform="rotate(-30 872.2 519.0)"/><ellipse cx="881.6" cy="529.3" rx="4.4" ry="3.4" transform="rotate(-30 881.6 529.3)"/><ellipse cx="891.0" cy="538.1" rx="4.2" ry="3.4" transform="rotate(-30 891.0 538.1)"/><ellipse cx="900.8" cy="548.4" rx="3.8" ry="2.9" transform="rotate(-30 900.8 548.4)"/><ellipse cx="822.7" cy="453.3" rx="3.6" ry="2.8" transform="rotate(-30 822.7 453.3)"/><ellipse cx="832.4" cy="463.6" rx="4.4" ry="3.4" transform="rotate(-30 832.4 463.6)"/><ellipse cx="843.0" cy="473.3" rx="4.0" ry="3.1" transform="rotate(-30 843.0 473.3)"/><ellipse cx="852.1" cy="483.2" rx="4.4" ry="3.4" transform="rotate(-30 852.1 483.2)"/><ellipse cx="861.1" cy="492.8" rx="4.0" ry="3.0" transform="rotate(-30 861.1 492.8)"/><ellipse cx="870.8" cy="503.2" rx="3.6" ry="2.8" transform="rotate(-30 870.8 503.2)"/><ellipse cx="881.4" cy="512.8" rx="3.6" ry="2.8" transform="rotate(-30 881.4 512.8)"/><ellipse cx="890.9" cy="522.2" rx="4.0" ry="3.1" transform="rotate(-30 890.9 522.2)"/><ellipse cx="901.4" cy="531.3" rx="4.0" ry="3.1" transform="rotate(-30 901.4 531.3)"/><ellipse cx="841.7" cy="456.8" rx="4.0" ry="3.1" transform="rotate(-30 841.7 456.8)"/><ellipse cx="851.9" cy="467.0" rx="4.2" ry="3.2" transform="rotate(-30 851.9 467.0)"/><ellipse cx="862.3" cy="476.6" rx="4.2" ry="3.2" transform="rotate(-30 862.3 476.6)"/><ellipse cx="871.4" cy="486.4" rx="4.1" ry="3.1" transform="rotate(-30 871.4 486.4)"/><ellipse cx="881.0" cy="496.2" rx="4.1" ry="3.2" transform="rotate(-30 881.0 496.2)"/><ellipse cx="891.6" cy="506.3" rx="3.9" ry="3.0" transform="rotate(-30 891.6 506.3)"/><ellipse cx="901.3" cy="515.3" rx="4.4" ry="3.4" transform="rotate(-30 901.3 515.3)"/><ellipse cx="852.3" cy="451.2" rx="4.0" ry="3.1" transform="rotate(-30 852.3 451.2)"/><ellipse cx="860.7" cy="460.3" rx="3.5" ry="2.8" transform="rotate(-30 860.7 460.3)"/><ellipse cx="870.7" cy="469.5" rx="3.5" ry="2.6" transform="rotate(-30 870.7 469.5)"/><ellipse cx="881.3" cy="480.5" rx="4.1" ry="3.1" transform="rotate(-30 881.3 480.5)"/><ellipse cx="890.9" cy="489.9" rx="3.5" ry="2.8" transform="rotate(-30 890.9 489.9)"/><ellipse cx="901.0" cy="500.2" rx="3.5" ry="2.8" transform="rotate(-30 901.0 500.2)"/><ellipse cx="871.5" cy="453.7" rx="3.6" ry="2.8" transform="rotate(-30 871.5 453.7)"/><ellipse cx="881.3" cy="464.2" rx="3.9" ry="3.0" transform="rotate(-30 881.3 464.2)"/><ellipse cx="890.2" cy="473.4" rx="3.5" ry="2.8" transform="rotate(-30 890.2 473.4)"/><ellipse cx="899.6" cy="482.9" rx="3.8" ry="2.9" transform="rotate(-30 899.6 482.9)"/><ellipse cx="889.3" cy="457.2" rx="4.1" ry="3.2" transform="rotate(-30 889.3 457.2)"/><ellipse cx="899.0" cy="466.6" rx="3.9" ry="3.0" transform="rotate(-30 899.0 466.6)"/><ellipse cx="899.5" cy="449.9" rx="4.1" ry="3.1" transform="rotate(-30 899.5 449.9)"/></g>
<g fill="none" stroke="#000" stroke-width="2.2" stroke-linejoin="round" stroke-linecap="round">
 <!-- cable -->
 <path d="M203,706 Q212,702 217,708 L219,712 L219,728 L217,732 Q212,736 203,733" stroke-width="4"/>
 <path d="M206,716 l0,2 M206,722 l0,2" stroke-width="1.6"/>
 <path d="M219,711 L269,711 L269,727 L219,727" stroke-width="4.2"/>
 <path d="M224,713.5 l2,0 M230,713.5 l2,0 M236,713.5 l2,0 M242,713.5 l2,0 M248,713.5 l2,0 M254,713.5 l2,0 M260,713.5 l2,0 M224,724.5 l2,0 M230,724.5 l2,0 M236,724.5 l2,0 M242,724.5 l2,0 M248,724.5 l2,0 M254,724.5 l2,0 M260,724.5 l2,0" stroke-width="1.5"/>
 <path d="M269,710 L273,709 L303,709 L305.6,713 L305.6,727 L303,730.5 L273,730.5 L269,728" stroke-width="3.6"/>
 <path d="M273,709 L282,709 L282,730.5 L273,730.5 Z" fill="#000" stroke-width="2"/>
 <path d="M282,711 L302,711" stroke-width="2"/>
 <path d="M305.6,714 L326,714 L326,726.5 L305.6,726.5" stroke-width="3.4"/>
 <path d="M309,718 l0,4 M314,718 l0,4 M318,718 l0,4 M322,718 l0,4" stroke-width="1.2"/>
 <path d="M326,710 Q334,706 343,709 L345,714 L345,726 L343,731 Q334,734 326,730 Z" fill="#000" stroke-width="1.5"/>
 <path d="M333,713 L333,728" stroke="#fcfcfc" stroke-width="1.8"/>
 <path d="M345,713.5 L406,713.5 L406,727 L345,727 Z" fill="#000" stroke-width="1"/>
 <path d="M348,720 l4,0 M356,719 l0,3 M362,720 l4,0 M370,719 l3,3 M377,720 l4,0 M385,719 l3,2 M392,720 l4,0 M399,720 l3,-1" stroke="#fcfcfc" stroke-width="1.6"/>
 <path d="M405,714.8 L428.6,714.8 L435.5,716.8 L446.4,722.3 L455.9,722.3 L456.6,720.2 L449.1,708 L454.5,701.1 L459.3,703.2 L465.5,710.7 L468.2,718.9 L465.5,726.4 L457.3,731.1 L447.7,733.9 L440.9,730.5 L434.1,724.8 L405,725" fill="#fcfcfc" stroke-width="2.4"/>
 <path d="M406,726 L434,726 L441,731 L448,733 L457,730.5 L464.5,725.5 L467,718.5 L464.5,711 L459,704 L456,703" stroke-width="4.5"/>
 <!-- part 89 -->
 <path d="M474,748 L515,744.7 L514,760 L490.5,766.5 Q482,769 474,767.5 Q470,760 471,752 Z" stroke-width="2.8"/>
 <path d="M472,752 L476,750 L476,766 L472,765 Z" fill="#000" stroke-width="1.5"/>
 <path d="M479,758 Q480,754 486,754 Q492,756 490,761 Q484,764 479,762" stroke-width="2.4"/>
 <path d="M513,742.5 L530,744 Q533,748 532.7,762 L532,771 L515,771.6 L513,770 Z" stroke-width="2.8"/>
 <path d="M513,743 L520,743.5 L520,771 L513,770 Z" fill="#000" stroke-width="1"/>
 <circle cx="525" cy="755" r="5" stroke-width="2.4"/>
 <path d="M522,765 l0,4 M525.5,765 l0,4 M528.5,765 l0,4" stroke-width="1.3"/>
 <!-- left edge bits -->
 <path d="M202,642 L204,644 L209.5,654 L202,653.5 Z" fill="#000" stroke="none"/>
 <rect x="202" y="654" width="4" height="30" fill="#ffff00" stroke="none"/>
 <path d="M893,537 L897,533 L898,533 L898,553 L894.5,553 L894.5,539 Z" fill="#000" stroke="none"/>
 <!-- top right black -->
 <path d="M883,257 L898,257 L890,261 Z" fill="#000" stroke-width="1"/>
 <path d="M894,268 L897.5,268 L897.5,274.5 L895,274 Z" fill="#000" stroke-width="1"/>
</g>

<g font-family="Liberation Sans, sans-serif" font-weight="bold" fill="#000">
 <text x="668.7" y="614.5" font-size="20.5" stroke="#000" stroke-width="0.9" textLength="44.8" lengthAdjust="spacingAndGlyphs">RICAMBI</text>
 <text x="725" y="614.5" font-size="20.5" stroke="#000" stroke-width="0.9" textLength="57.3" lengthAdjust="spacingAndGlyphs">ORIGINALI</text>
 <text x="649.6" y="642" font-size="10.5" font-weight="bold" stroke="#000" stroke-width="0" textLength="24" lengthAdjust="spacingAndGlyphs">ESIGI</text>
 <text x="686.8" y="642" font-size="10.5" font-weight="bold" stroke="#000" stroke-width="0" textLength="58" lengthAdjust="spacingAndGlyphs">CONTRASSEGNO</text>
 <text x="756.5" y="642" font-size="10.5" font-weight="bold" stroke="#000" stroke-width="0" textLength="16" lengthAdjust="spacingAndGlyphs">PER</text>
 <text x="647.7" y="665" font-size="10.5" font-weight="bold" stroke="#000" stroke-width="0" textLength="48.7" lengthAdjust="spacingAndGlyphs">PETIZIONE</text>
 <text x="706.9" y="665" font-size="10.5" font-weight="bold" stroke="#000" stroke-width="0" textLength="43" lengthAdjust="spacingAndGlyphs">DIPENDE</text>
 <text x="672.5" y="685" font-size="10.5" font-weight="bold" stroke="#000" stroke-width="0" textLength="54.5" lengthAdjust="spacingAndGlyphs">IMBALLO</text>
</g>

<g fill="#ff0808"><polygon points="696,367.8 740.5,367.8 717.6,390"/><polygon points="669.3,384.4 669.3,427.6 692.2,404.7"/><polygon points="761,382.5 761,428.3 738,405.4"/><polygon points="696,455.6 741.8,455.6 718.3,432"/></g>
<g font-family="Liberation Sans, sans-serif" fill="#000" stroke="#000" stroke-width="0.25"><g stroke-width="1.1"><text x="568.0" y="314.7" font-size="35.9" font-weight="bold" textLength="28.5" lengthAdjust="spacingAndGlyphs" >69</text></g><g stroke-width="0.4"><path d="M678.3,262.0 L676.4,283.1" stroke-width="2.0" stroke-linecap="butt" fill="none"/><path d="M678.7,262.0 L673.5,269.0" stroke-width="1.5" stroke-linecap="butt" fill="none"/><text x="662.7" y="283.6" font-size="30.9" font-weight="bold" textLength="19.3" lengthAdjust="spacingAndGlyphs" >7 </text></g><g stroke-width="1.1"><path d="M836.6,272.5 L834.2,295.1" stroke-width="2.6" stroke-linecap="butt" fill="none"/><path d="M837.1,272.5 L830.5,280.0" stroke-width="2.0" stroke-linecap="butt" fill="none"/><path d="M849.0,272.5 L846.5,295.1" stroke-width="2.6" stroke-linecap="butt" fill="none"/><path d="M849.5,272.5 L842.8,280.0" stroke-width="2.0" stroke-linecap="butt" fill="none"/><text x="829.0" y="295.6" font-size="33.0" font-weight="bold" textLength="37.0" lengthAdjust="spacingAndGlyphs" >  2</text></g><g stroke-width="1.1"><text x="799.8" y="345.7" font-size="31.7" font-weight="bold" textLength="27.6" lengthAdjust="spacingAndGlyphs" >83</text></g><g stroke-width="1.1"><path d="M660.6,360.5 L656.8,386.5" stroke-width="3.9" stroke-linecap="butt" fill="none"/><path d="M661.3,360.5 L651.2,369.2" stroke-width="3.0" stroke-linecap="butt" fill="none"/><text x="649.0" y="387.0" font-size="37.7" font-weight="bold" textLength="56.0" lengthAdjust="spacingAndGlyphs" > 09</text></g><g stroke-width="1.1"><text x="701.0" y="415.0" font-size="32.1" font-weight="bold" textLength="25.5" lengthAdjust="spacingAndGlyphs" >84</text></g><g stroke-width="0.4"><text x="413.5" y="420.0" font-size="30.7" font-weight="bold" textLength="28.5" lengthAdjust="spacingAndGlyphs" >65</text></g><g stroke-width="0.4"><text x="524.8" y="476.5" font-size="32.0" font-weight="bold" textLength="27.8" lengthAdjust="spacingAndGlyphs" >66</text></g><g stroke-width="0.4"><text x="263.0" y="444.0" font-size="29.6" font-weight="bold" textLength="26.0" lengthAdjust="spacingAndGlyphs" >63</text></g><g stroke-width="0.4"><text x="202.0" y="466.0" font-size="30.7" font-weight="bold" textLength="14.4" lengthAdjust="spacingAndGlyphs" >4</text></g><g stroke-width="0.4"><path d="M274.0,540.5 L270.5,561.5" stroke-width="3.7" stroke-linecap="butt" fill="none"/><path d="M274.7,540.5 L265.1,547.5" stroke-width="2.8" stroke-linecap="butt" fill="none"/><text x="263.0" y="562.0" font-size="30.7" font-weight="bold" textLength="35.5" lengthAdjust="spacingAndGlyphs" > 0</text></g><g stroke-width="0.4"><text x="335.0" y="598.7" font-size="33.5" font-weight="bold" textLength="26.0" lengthAdjust="spacingAndGlyphs" >87</text></g><g stroke-width="0.4"><text x="401.0" y="638.4" font-size="30.6" font-weight="bold" textLength="24.0" lengthAdjust="spacingAndGlyphs" >86</text></g><g stroke-width="0.4"><text x="582.0" y="672.0" font-size="27.9" font-weight="bold" textLength="28.0" lengthAdjust="spacingAndGlyphs" >86</text></g><g stroke-width="0.4"><text x="572.0" y="788.4" font-size="28.5" font-weight="bold" textLength="29.0" lengthAdjust="spacingAndGlyphs" >89</text></g><text x="624.0" y="441.7" font-size="30.3" font-weight="bold" textLength="27.7" lengthAdjust="spacingAndGlyphs" >85</text></g>
</g>
</svg></body></html>
